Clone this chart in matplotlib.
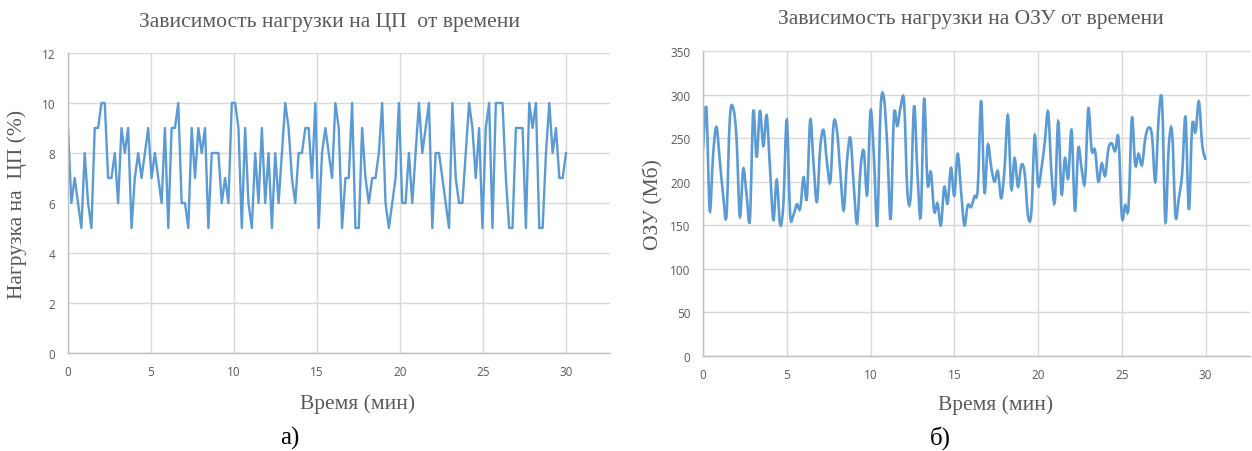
import numpy as np
import matplotlib
matplotlib.use("Agg")
import matplotlib.pyplot as plt
from matplotlib.path import Path
from matplotlib.patches import PathPatch

# ---------------- data ----------------
cpu_load = [9, 6, 7, 6, 5, 8, 6, 5, 9, 9, 10, 10, 7, 7, 8, 6, 9, 8, 9, 5, 7, 8, 7, 8, 9, 7,
            8, 7, 6, 9, 5, 9, 9, 10, 6, 6, 5, 9, 7, 9, 8, 9, 5, 8, 8, 8, 6, 7, 6, 10, 10,
            9, 5, 9, 6, 5, 8, 6, 9, 6, 8, 5, 8, 6, 8, 10, 9, 7, 6, 8, 8, 9, 9, 7, 10, 5, 8,
            9, 8, 7, 10, 9, 5, 7, 7, 10, 5, 5, 9, 7, 6, 7, 7, 8, 10, 6, 5, 6, 7, 10, 6, 6, 8,
            6, 8, 10, 8, 9, 10, 5, 8, 8, 7, 6, 5, 10, 7, 6, 6, 8, 10, 9, 7, 9, 5, 9, 10, 5,
            10, 10, 10, 7, 5, 5, 9, 9, 9, 5, 10, 9, 10, 5, 5, 8, 10, 8, 9, 7, 7, 8]

ram_usage = [236, 285, 167, 230, 263, 225, 185, 161, 272, 285, 250, 160, 215, 185, 157, 281,
             228, 281, 241, 276, 215, 156, 202, 151, 175, 271, 163, 162, 174, 169, 205, 181,
             271, 220, 177, 240, 259, 222, 200, 267, 258, 210, 167, 225, 250, 195, 152, 215,
             235, 185, 281, 230, 150, 284, 296, 240, 157, 277, 264, 286, 292, 188, 184, 287,
             210, 161, 295, 198, 211, 166, 175, 150, 194, 175, 216, 184, 232,
             190, 150, 173, 171, 183, 192, 293, 188, 242, 217, 200, 212, 181, 215, 276, 192,
             227, 194, 219, 210, 161, 165, 253, 196, 215, 245, 280, 210, 177, 269, 186, 227,
             204, 259, 167, 238, 215, 200, 284, 236, 236, 200, 221, 207, 238, 244, 235, 250,
             160, 173, 171, 273, 219, 232, 219, 250, 262, 253, 200, 274, 292, 154, 240, 257,
             161, 181, 209, 274, 168, 265, 257, 292, 242, 225]

duration_min = 30
x_ticks = [0, 5, 10, 15, 20, 25, 30]
cpu_y_ticks = [0, 2, 4, 6, 8, 10, 12]
ram_y_ticks = [0, 50, 100, 150, 200, 250, 300, 350]

cpu_title = "Зависимость нагрузки на ЦП  от времени"
ram_title = "Зависимость нагрузки на ОЗУ от времени"
cpu_ylabel = "Нагрузка на  ЦП (%)"
ram_ylabel = "ОЗУ (Мб)"
xlabel = "Время (мин)"

# ---------------- style ----------------
LINE = "#5B9BD5"
GRID = "#D9D9D9"
TXT = "#595959"
SERIF = ["Liberation Serif", "DejaVu Serif"]
SANS = ["Open Sans", "DejaVu Sans"]
FS = 15.5

W, H = 1252, 452
fig = plt.figure(figsize=(W / 100, H / 100), dpi=100)


def box(l, r, t, b):
    return [l / W, 1 - b / H, (r - l) / W, (b - t) / H]


def smooth_path(x, y):
    # Excel-style smoothed line (Catmull-Rom as cubic Bezier)
    x = np.asarray(x, float)
    y = np.asarray(y, float)
    n = len(x)
    verts = [(x[0], y[0])]
    codes = [Path.MOVETO]
    for i in range(n - 1):
        x0, y0 = (x[i - 1], y[i - 1]) if i > 0 else (x[i], y[i])
        x1, y1 = x[i], y[i]
        x2, y2 = x[i + 1], y[i + 1]
        x3, y3 = (x[i + 2], y[i + 2]) if i + 2 < n else (x2, y2)
        c1 = (x1 + (x2 - x0) / 6, y1 + (y2 - y0) / 6)
        c2 = (x2 - (x3 - x1) / 6, y2 - (y3 - y1) / 6)
        verts += [c1, c2, (x2, y2)]
        codes += [Path.CURVE4] * 3
    return Path(verts, codes)


def style_axes(ax, yticks, ymax):
    ax.set_xlim(0, 32.65)
    ax.set_ylim(0, ymax)
    ax.set_xticks(x_ticks)
    ax.set_yticks(yticks)
    ax.grid(True, color=GRID, linewidth=1.0)
    ax.set_axisbelow(True)
    for s in ["top", "right"]:
        ax.spines[s].set_visible(False)
    for s in ["left", "bottom"]:
        ax.spines[s].set_color("#BFBFBF")
        ax.spines[s].set_linewidth(1.0)
    ax.tick_params(length=0, colors=TXT, labelsize=8.5, pad=9)
    for lab in ax.get_xticklabels() + ax.get_yticklabels():
        lab.set_family(SANS)


def add_texts(ax, title, title_x, ylabel, ylab_x, xlab_x, xlab_y):
    ax.text(title_x, 1 + 32 / 300, title, transform=ax.transAxes, family=SERIF,
            fontsize=FS, color=TXT, ha="center", va="center")
    ax.set_ylabel(ylabel, family=SERIF, fontsize=FS, color=TXT)
    ax.yaxis.set_label_coords(ylab_x, 0.5)
    ax.set_xlabel(xlabel, family=SERIF, fontsize=FS, color=TXT)
    ax.xaxis.set_label_coords(xlab_x, xlab_y)


# ---- left: CPU ----
ax1 = fig.add_axes(box(68, 610, 54, 354))
t_cpu = np.linspace(0, duration_min, len(cpu_load))
ax1.plot(t_cpu, cpu_load, color=LINE, linewidth=1.7, solid_joinstyle="round")
style_axes(ax1, cpu_y_ticks, 12)
add_texts(ax1, cpu_title, 0.483, cpu_ylabel, -0.076, 0.535, -0.135)

# ---- right: RAM ----
ax2 = fig.add_axes(box(703, 1250, 52, 357))
t_ram = np.linspace(0, duration_min, len(ram_usage))
ax2.add_patch(PathPatch(smooth_path(t_ram, ram_usage), fill=False,
                        edgecolor=LINE, linewidth=1.9))
style_axes(ax2, ram_y_ticks, 350)
add_texts(ax2, ram_title, 0.49, ram_ylabel, -0.073, 0.534, -0.125)

# ---- captions ----
fig.text(290 / W, 1 - 438 / H, "а)", family=SERIF, fontsize=18, color="black",
         ha="center", va="center")
fig.text(940 / W, 1 - 438 / H, "б)", family=SERIF, fontsize=18, color="black",
         ha="center", va="center")

fig.savefig("out.png", dpi=100)
